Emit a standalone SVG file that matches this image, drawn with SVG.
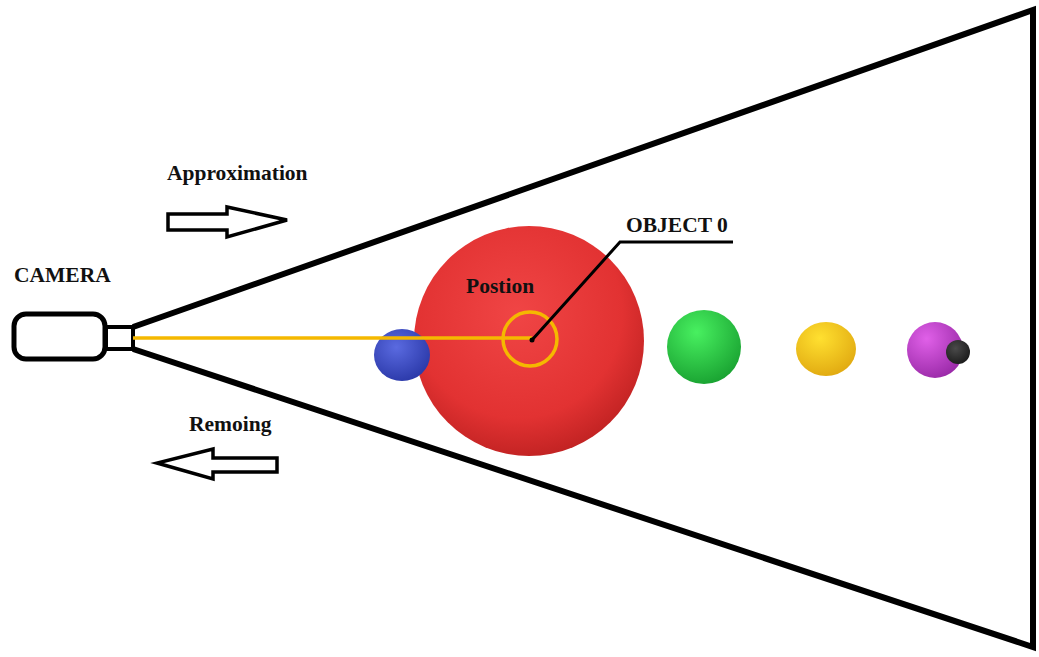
<svg xmlns="http://www.w3.org/2000/svg" width="1039" height="657" viewBox="0 0 1039 657">
  <defs>
    <radialGradient id="gRed" cx="0.45" cy="0.38" r="0.7">
      <stop offset="0" stop-color="#f04545"/>
      <stop offset="0.65" stop-color="#e23232"/>
      <stop offset="1" stop-color="#b51d1d"/>
    </radialGradient>
    <radialGradient id="gBlue" cx="0.4" cy="0.35" r="0.7">
      <stop offset="0" stop-color="#5a6ae0"/>
      <stop offset="1" stop-color="#2a38a8"/>
    </radialGradient>
    <radialGradient id="gGreen" cx="0.4" cy="0.3" r="0.75">
      <stop offset="0" stop-color="#48f060"/>
      <stop offset="1" stop-color="#18a030"/>
    </radialGradient>
    <radialGradient id="gYellow" cx="0.4" cy="0.3" r="0.75">
      <stop offset="0" stop-color="#ffe030"/>
      <stop offset="1" stop-color="#e0a810"/>
    </radialGradient>
    <radialGradient id="gMagenta" cx="0.35" cy="0.3" r="0.75">
      <stop offset="0" stop-color="#e060e8"/>
      <stop offset="1" stop-color="#9a2aa8"/>
    </radialGradient>
    <radialGradient id="gDark" cx="0.4" cy="0.35" r="0.7">
      <stop offset="0" stop-color="#4a4a4a"/>
      <stop offset="1" stop-color="#1a1a1a"/>
    </radialGradient>
    <style>
      .lbl { font-family: "Liberation Serif", "Times New Roman", serif; font-weight: bold; font-size: 21.5px; fill: #111; }
      .edge { fill: none; stroke: #000; stroke-linejoin: miter; }
      .arrow { fill: #fff; stroke: #000; stroke-width: 3.5; stroke-linejoin: miter; }
    </style>
  </defs>

  <rect width="1039" height="657" fill="#fff"/>

  <!-- viewing frustum -->
  <g id="frustum">
    <polyline class="edge" stroke-width="6" points="133,327 1033,10 1033,647 133,349"/>
  </g>

  <!-- spheres -->
  <g id="sphere-red"><circle cx="529" cy="341" r="115" fill="url(#gRed)"/></g>
  <g id="sphere-blue"><ellipse cx="402" cy="355" rx="28" ry="26" fill="url(#gBlue)"/></g>
  <g id="sphere-green"><circle cx="704" cy="347" r="37" fill="url(#gGreen)"/></g>
  <g id="sphere-yellow"><ellipse cx="826" cy="349" rx="30" ry="27" fill="url(#gYellow)"/></g>
  <g id="sphere-magenta"><circle cx="935" cy="350" r="28" fill="url(#gMagenta)"/></g>
  <g id="sphere-dark"><circle cx="958" cy="352" r="12" fill="url(#gDark)"/></g>

  <!-- camera -->
  <g id="camera">
    <rect x="14" y="314" width="91" height="45" rx="12" fill="#fff" stroke="#000" stroke-width="5"/>
    <rect x="106" y="327" width="27" height="22" fill="#fff" stroke="#000" stroke-width="4"/>
    <text class="lbl" x="14" y="282">CAMERA</text>
  </g>

  <!-- connectors: sight line and leader -->
  <g id="connectors">
    <line x1="133" y1="338" x2="532" y2="338" stroke="#f5b800" stroke-width="3.5"/>
    <circle cx="530" cy="339" r="27" fill="none" stroke="#f5b800" stroke-width="3.5"/>
    <polyline class="edge" stroke-width="3" points="532,340 620,242 733,242"/>
    <circle cx="532" cy="340" r="2.5" fill="#000"/>
  </g>

  <!-- labels -->
  <g id="label-object"><text class="lbl" x="626" y="232">OBJECT 0</text></g>
  <g id="label-position"><text class="lbl" x="466" y="293">Postion</text></g>

  <!-- direction arrows -->
  <g id="approximation">
    <text class="lbl" x="167" y="180">Approximation</text>
    <polygon class="arrow" points="168,214 227,214 227,207 287,220 227,237 227,230 168,230"/>
  </g>
  <g id="removing">
    <text class="lbl" x="189" y="431">Remoing</text>
    <polygon class="arrow" points="277,458 213,458 213,449 157,463 213,479 213,472 277,472"/>
  </g>
</svg>
